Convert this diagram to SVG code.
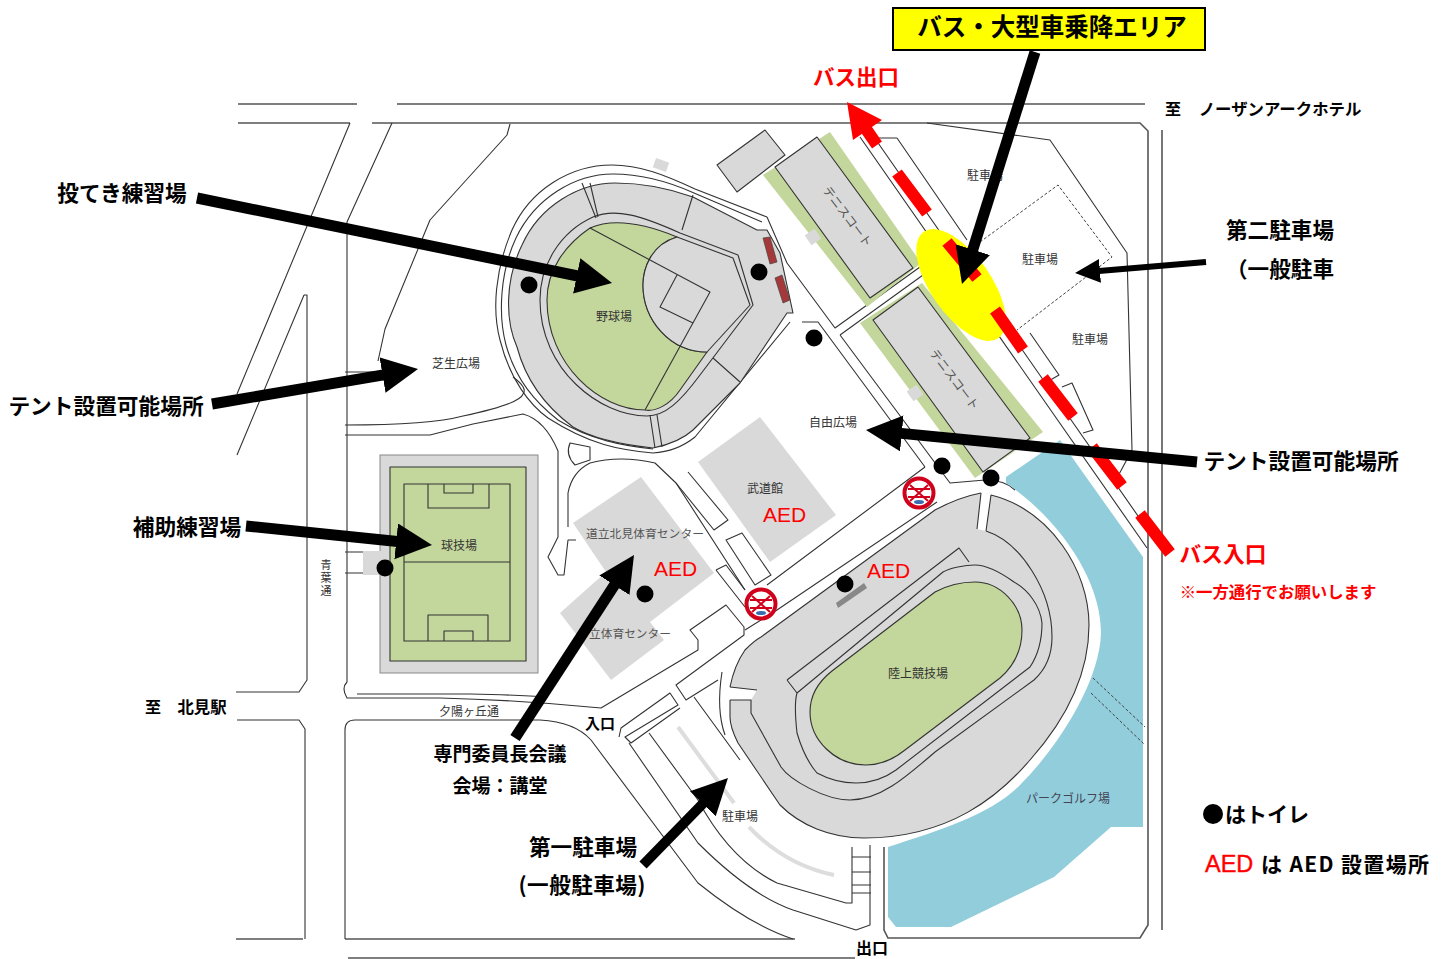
<svg xmlns="http://www.w3.org/2000/svg" width="1446" height="959" viewBox="0 0 1446 959">
<style>
.l{fill:none;stroke:#333;stroke-width:1.1;stroke-linejoin:round}
.k{fill:none;stroke:#555;stroke-width:1.6}
.g{fill:#d9d9d9;stroke:#333;stroke-width:1.1;stroke-linejoin:round}
.gn{fill:#c3d69b;stroke:#333;stroke-width:1.1;stroke-linejoin:round}
.strip{fill:#c3d69b}
.pale{fill:#d9d9d9}
.d{fill:none;stroke:#444;stroke-width:1;stroke-dasharray:3 2}
.dot{fill:#000}
.m{font-family:"Noto Sans CJK JP","Noto Sans",sans-serif;font-size:12px;fill:#333;text-anchor:middle}
.b{font-family:"Noto Sans CJK JP","Noto Sans",sans-serif;font-weight:700;fill:#000;text-anchor:middle}
.r{fill:#ff0000}
.aed{font-family:"Liberation Sans",Arial,sans-serif;font-size:21px;fill:#ff0000}
.arrow{fill:none;stroke:#000;marker-end:url(#head)}
.rd{stroke:#ff0000;stroke-width:12;fill:none}
.ne{fill:#fff;stroke:#d0021b;stroke-width:4}
.nx{stroke:#d0021b;stroke-width:2}
</style>
<defs>
<marker id="head" markerUnits="userSpaceOnUse" markerWidth="40" markerHeight="40" refX="16" refY="18" orient="auto"><path d="M0 0L36 18L0 36Z" fill="#000"/></marker>
<marker id="heads" markerUnits="userSpaceOnUse" markerWidth="28" markerHeight="28" refX="13" refY="12" orient="auto"><path d="M0 0L25 12L0 24Z" fill="#000"/></marker>
<g id="noentry"><circle r="14.5" class="ne"/><path class="nx" d="M-9 -8L9 8M9 -8L-9 8M-11 -4H11M-11 4H11"/><ellipse cx="0" cy="9" rx="5" ry="2" fill="#3a6db0"/></g>
</defs>

<g id="roads">
<path class="k" d="M238 104H357M397 104H1145M238 123H350M372 123H1140L1148 131V925L1140 938H888L884 930V847"/>
<path class="k" d="M1162 130V930"/>
<path class="k" d="M236 939H303M345 939H795M348 958H855"/>
<path class="l" d="M350 123L237 394M392 123L347 222V682Q341 688 347 698H440Q520 700 601 708L698 650V640L690 630L726 605L744 627V635L676 685L686 700L718 680"/>
<path class="l" d="M304 295L237 455M304 295H307V680L299 692H236M237 720H299L305 729V939"/>
<path class="l" d="M357 694H470Q520 695 548 697M345 939V730Q345 720 355 720H540Q575 722 591 740L698 883Q750 925 793 939"/>
<path class="l" d="M510 124L507 135L430 220L385 329L378 361"/>
<path class="l" d="M513 377Q528 388 523 394Q520 404 463 416Q430 425 345 425M345 435H430L473 424L523 414Q545 420 558 451V537L548 557L558 575H564L568 540H576"/>
<path class="l" d="M570 443L590 447L590 460L575 465Q565 455 570 443Z"/>
<path class="l" d="M568 527V493Q572 472 590 463Q620 455 655 463L676 483L745 590"/>
<path class="l" d="M688 472L728 520L714 530L676 483M726 540L742 533L771 575L755 585Z M716 570L726 565L745 590M716 570L745 607"/>
<path class="l" d="M925 467L767 585M937 502L777 610L745 630"/>
<path class="l" d="M767 217L787 263L835 328L920 267M840 335L923 275M840 335L950 483L985 480Q1005 480 1015 490M802 322H818L925 467"/>
<path class="l" d="M860 137L1147 548M876 140L1145 526M897 138H876M897 138L967 240M927 123L1050 140L1127 253L1132 450L1117 478"/>
<path class="d" d="M980 242L1058 185L1112 257L1017 330"/>
<path class="l" d="M1030 333L1059 375L1047 382M1062 387L1072 383L1093 430L1083 433"/>
<path class="l" d="M619 737L621 728L670 693L678 705L625 737L631 743L680 708M629 743L698 843Q750 895 793 910L856 930L870 925V845M649 733L698 800Q730 860 777 883L846 903H852V847"/>
<path class="l" d="M852 857H871M852 872H871M852 885H871M852 893H871"/>
<path class="l" d="M694 697L740 760M722 672Q716 710 725 735"/>
<path d="M678 727L734 803M749 827Q785 865 834 875" fill="none" stroke="#ddd" stroke-width="4"/>
</g>

<g id="pond">
<path d="M1006 483C1060 520 1101 580 1101 633C1100 680 1060 745 1020 785C990 815 940 830 888 847V917L896 927H951L1054 877L1111 827H1143V557L1074 460L1060 440L1006 477Z" fill="#92cddc"/>
<path class="d" d="M1093 678L1145 727M1091 693L1145 745"/>
</g>

<g id="baseball">
<path class="l" d="M767 217L695 189C665 175 640 165 612 165C570 165 530 190 512 230C495 270 492 310 500 340C510 380 530 405 548 418C590 445 620 450 653 453C670 452 685 445 695 437L790 322"/>
<path class="l" d="M762 222L694 193C665 180 640 174 613 174C575 174 535 198 516 238C500 272 498 315 506 345C516 380 535 402 558 420C590 440 625 446 653 449"/>
<path class="g" d="M757 230L693 197C665 187 640 183 615 183C580 183 540 205 522 245C505 280 505 320 517 347C527 385 550 410 573 427C595 440 625 445 653 448C668 445 682 440 693 430L740 383L787 313H793L780 253L767 230Z"/>
<path class="l" d="M738 255L680 233C640 215 615 208 593 217C560 232 540 265 540 300C540 370 600 416 647 416C665 416 680 402 700 375L753 305Z"/>
<path class="gn" d="M590 228C620 215 660 230 677 237C650 245 643 270 643 285C643 320 670 352 707 352L680 390C670 405 655 412 645 410C600 410 547 365 547 300C547 270 565 245 590 228Z"/>
<path class="g" d="M677 237L733 258L750 305L707 352C670 352 643 320 643 285C643 270 650 245 677 237Z"/>
<path class="l" d="M590 228L710 292L645 410M677 275L660 307L693 323"/>
<path class="l" d="M582 183L596 218M590 183L598 217M693 195L682 230M713 358L740 382M650 415L655 448M657 415L662 447"/>
<path d="M763 238L770 237L777 262L770 264ZM775 278L782 275L790 300L783 303Z" fill="#a5393a" stroke="#444" stroke-width=".7"/>
<rect x="654" y="160" width="14" height="10" transform="rotate(20 661 165)" class="pale"/>
</g>

<g id="tennis">
<path class="g" d="M717 165L765 130L785 155L737 192Z"/>
<path class="strip" d="M763 175L830 132L921 263L867 307Z"/>
<path class="g" d="M775 167L817 137L913 268L870 298Z"/>
<rect x="807" y="231" width="12" height="12" transform="rotate(-35 813 237)" class="pale"/>
<path class="strip" d="M860 323L922 283L1043 432L975 478Z"/>
<path class="g" d="M873 320L918 287L1030 438L983 472Z"/>
<rect x="909" y="387" width="12" height="12" transform="rotate(-35 915 393)" class="pale"/>
<text class="m" transform="translate(844 219) rotate(53)" style="fill:#555">テニスコート</text>
<text class="m" transform="translate(951 382) rotate(53)" style="fill:#555">テニスコート</text>
</g>

<g id="soccer">
<rect x="380" y="455" width="158" height="218" fill="#d9d9d9" stroke="#888"/>
<rect x="363" y="551" width="27" height="24" class="pale"/>
<path class="l" d="M345 372H380M345 552H363M345 573H363"/>
<rect x="390" y="467" width="136" height="194" class="gn"/>
<path class="l" d="M404 484H510V641H404ZM404 562H510M428 484V508H489V484M444 484V493H473V484M428 641V615H488V641M444 641V631H473V641"/>
</g>

<g id="buildings">
<path class="pale" d="M641 477L573 523L606 572L560 613L611 680L664 640L650 622L714 573Z"/>
<path class="pale" d="M698 462L760 417L836 515L770 562Z"/>
</g>

<g id="stadium">
<path class="g" d="M981 493L991 495C1050 510 1089 570 1089 625C1089 670 1070 715 1030 760C1000 795 950 838 864 838C830 838 800 825 780 805L738 743C733 733 730 725 730 717V687C733 672 738 660 745 650C750 645 755 640 761 637L935 510C950 502 965 496 981 493Z"/>
<path d="M981 492L991 494L986 531L977 529ZM729 687L757 690L751 700H729Z" fill="#fff"/>
<path class="l" d="M977 529L981 493M986 531L991 495M730 687L757 690M730 700H751V713L781 767C790 780 825 800 850 800C880 800 905 778 935 752L1034 680C1045 670 1052 655 1052 637C1052 590 1020 542 986 531"/>
<path class="l" d="M787 680L959 548L969 562M787 680L797 693C795 700 795 715 797 733C802 750 810 765 817 773C830 780 845 783 856 783C870 783 885 778 896 770L1030 667C1038 655 1042 640 1042 623C1040 605 1028 590 1014 582C1000 572 985 565 975 565C965 565 950 568 943 572L797 693"/>
<path class="gn" d="M975 582C1000 582 1022 605 1022 630C1022 650 1015 665 1000 678L905 750C890 762 878 765 866 765C835 765 810 740 810 712C810 695 818 682 832 671L935 592C948 585 960 582 975 582Z"/>
<path d="M836 603L864 583L867 588L838 608Z" fill="#888"/>
</g>

<g id="map-labels">
<text class="m" x="614" y="321">野球場</text>
<text class="m" x="456" y="368">芝生広場</text>
<text class="m" x="459" y="550">球技場</text>
<text class="m" x="833" y="427">自由広場</text>
<text class="m" x="765" y="493">武道館</text>
<text class="m" x="645" y="538" style="fill:#555;font-size:11.8px">道立北見体育センター</text>
<text class="m" x="630" y="638" style="fill:#555;font-size:11.7px">立体育センター</text>
<text class="m" x="918" y="678">陸上競技場</text>
<text class="m" x="740" y="821">駐車場</text>
<text class="m" x="985" y="180">駐車場</text>
<text class="m" x="1040" y="264">駐車場</text>
<text class="m" x="1090" y="344">駐車場</text>
<text class="m" x="1068" y="803" style="fill:#445">パークゴルフ場</text>
<text class="m" x="469" y="716">夕陽ヶ丘通</text>
<text class="m" x="326" y="559" style="writing-mode:vertical-rl;text-anchor:start;letter-spacing:2px;font-size:11px">青葉通</text>
</g>

<g id="signs">
<use href="#noentry" x="919" y="493"/>
<use href="#noentry" x="761" y="604"/>
<ellipse cx="961" cy="285" rx="65" ry="30" transform="rotate(55 961 285)" fill="#ffff00"/>
<circle class="dot" cx="529" cy="285" r="8.5"/>
<circle class="dot" cx="759" cy="272" r="8.5"/>
<circle class="dot" cx="814" cy="338" r="8.5"/>
<circle class="dot" cx="942" cy="466" r="8.5"/>
<circle class="dot" cx="991" cy="478" r="8.5"/>
<circle class="dot" cx="845" cy="584" r="8.5"/>
<circle class="dot" cx="645" cy="594" r="8.5"/>
<circle class="dot" cx="385" cy="568" r="8.5"/>
<text class="aed" x="763" y="522">AED</text>
<text class="aed" x="654" y="576">AED</text>
<text class="aed" x="867" y="578">AED</text>
</g>

<g id="connectors">
<path class="rd" d="M1170 553L1140 514M1122 486L1092 447M1073 417L1043 378M1023 350L995 310M977 278L947 242M927 213L897 173M877 145L866 129"/>
<path d="M847 102L882 120L853 140Z" fill="#ff0000"/>
<path class="arrow" stroke-width="11" d="M197 198L592.4 279"/>
<path class="arrow" stroke-width="11" d="M212 404L398.3 372.3"/>
<path class="arrow" stroke-width="11" d="M246 526L412.1 543"/>
<path class="arrow" stroke-width="11" d="M515 738L623.1 571.8"/>
<path class="arrow" stroke-width="10" d="M643 865L714 792.3"/>
<path class="arrow" stroke-width="11" d="M1035 52L968 264.9"/>
<path class="arrow" stroke-width="11" d="M1197 462L885.9 431.9"/>
<path fill="none" stroke="#000" stroke-width="6" marker-end="url(#heads)" d="M1206 262L1087 272"/>
</g>

<g id="labels">
<rect x="893" y="8" width="312" height="42" fill="#ffff00" stroke="#000" stroke-width="2"/>
<text class="b" x="1052" y="36" font-size="24.5">バス・大型車乗降エリア</text>
<text class="b r" x="856" y="85" font-size="21.5">バス出口</text>
<text class="b" x="1173" y="115" font-size="16">至</text>
<text class="b" x="1280" y="115" font-size="16.4">ノーザンアークホテル</text>
<text class="b" x="122" y="201" font-size="21.7">投てき練習場</text>
<text class="b" x="1280" y="238" font-size="21.6">第二駐車場</text>
<text class="b" x="1280" y="277" font-size="21.6">（一般駐車</text>
<text class="b" x="106" y="414" font-size="21.7">テント設置可能場所</text>
<text class="b" x="1301" y="469" font-size="21.7">テント設置可能場所</text>
<text class="b" x="187" y="535" font-size="21.7">補助練習場</text>
<text class="b r" x="1223" y="562" font-size="21.7">バス入口</text>
<text class="b r" x="1278" y="598" font-size="16.4">※一方通行でお願いします</text>
<text class="b" x="153" y="713" font-size="16">至</text>
<text class="b" x="202" y="713" font-size="16.4">北見駅</text>
<text class="b" x="600" y="729" font-size="15">入口</text>
<text class="b" x="500" y="761" font-size="19">専門委員長会議</text>
<text class="b" x="500" y="793" font-size="19">会場：講堂</text>
<text class="b" x="583" y="855" font-size="21.6">第一駐車場</text>
<text class="b" x="582" y="893" font-size="21.6" textLength="127">(一般駐車場)</text>
<text class="b" x="872" y="954" font-size="16">出口</text>
<circle class="dot" cx="1213" cy="814" r="10"/>
<text class="b" x="1267" y="822" font-size="21">はトイレ</text>
<text x="1205" y="872" font-family="Liberation Sans,Arial,sans-serif" font-size="23.5" fill="#ff0000" stroke="#ff0000" stroke-width=".4">AED</text>
<text class="b" x="1261" y="872" font-size="21" style="text-anchor:start" textLength="168">は AED 設置場所</text>
</g>
</svg>
